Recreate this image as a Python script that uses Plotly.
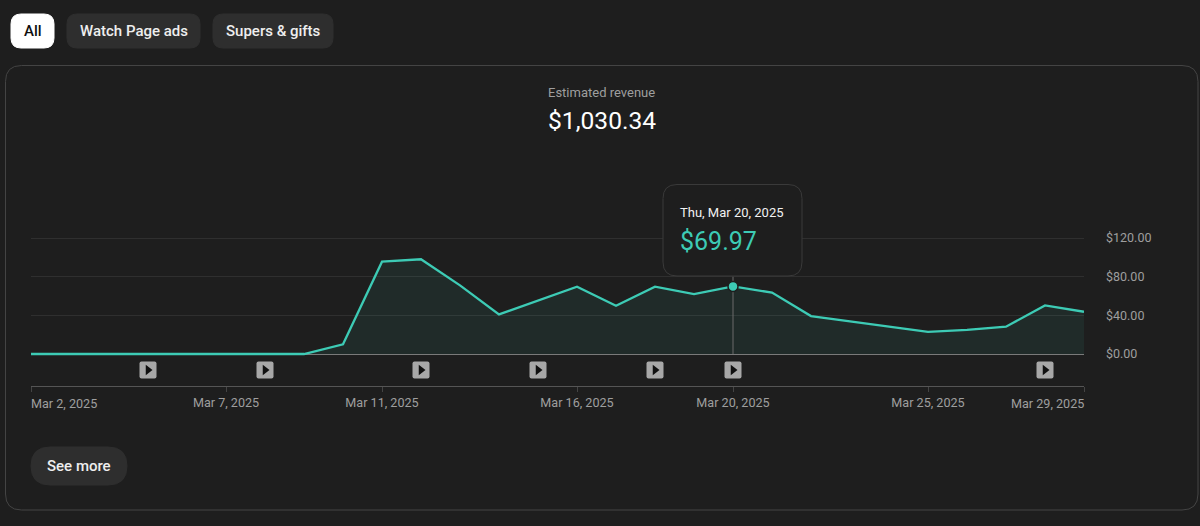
import plotly.graph_objects as go

W = 1200
H = 526

days = ["2025-03-02", "2025-03-03", "2025-03-04", "2025-03-05", "2025-03-06", "2025-03-07",
        "2025-03-08", "2025-03-09", "2025-03-10", "2025-03-11", "2025-03-12", "2025-03-13",
        "2025-03-14", "2025-03-15", "2025-03-16", "2025-03-17", "2025-03-18", "2025-03-19",
        "2025-03-20", "2025-03-21", "2025-03-22", "2025-03-23", "2025-03-24", "2025-03-25",
        "2025-03-26", "2025-03-27", "2025-03-28", "2025-03-29"]
revenue = [0, 0, 0, 0, 0, 0, 0, 0, 10, 95.5, 98, 71, 41, 55, 69.6, 50, 69.6, 62,
           69.97, 63.5, 39.3, 33.8, 28.3, 22.8, 25, 28.3, 50.3, 43.7]

# days with a video published
video_days = ["2025-03-05", "2025-03-08", "2025-03-12", "2025-03-15", "2025-03-18",
              "2025-03-20", "2025-03-28"]

tick_days = ["2025-03-02", "2025-03-07", "2025-03-11", "2025-03-16", "2025-03-20",
             "2025-03-25", "2025-03-29"]
tick_names = ["Mar 2, 2025", "Mar 7, 2025", "Mar 11, 2025", "Mar 16, 2025", "Mar 20, 2025",
              "Mar 25, 2025", "Mar 29, 2025"]
y_ticks = [0, 40, 80, 120]
y_names = ["$0.00", "$40.00", "$80.00", "$120.00"]

hover_day = "2025-03-20"
hover_value = 69.97

BG = "#1e1e1e"
TEAL = "#3dcbb5"
GREY = "#9e9e9e"
FONT = "Roboto"
ICON_Y = -16.5


def px(x):
    return x / W


def py(y):
    return 1 - y / H


def round_box(x0, y0, x1, y1, r, fill, line=None, layer="below"):
    # rounded rectangle given in page pixels
    a, b, c, d = px(x0), px(x1), py(y0), py(y1)
    rx, ry = r / W, r / H
    path = (f"M {a + rx} {c} L {b - rx} {c} Q {b} {c} {b} {c - ry} L {b} {d + ry} Q {b} {d} {b - rx} {d} "
            f"L {a + rx} {d} Q {a} {d} {a} {d + ry} L {a} {c - ry} Q {a} {c} {a + rx} {c} Z")
    return dict(type="path", path=path, xref="paper", yref="paper", fillcolor=fill,
                line=dict(color=line or fill, width=1), layer=layer)


def label(text, x, y, size, color, anchor="center", weight=None):
    return dict(text=text, x=px(x), y=py(y), xref="paper", yref="paper", showarrow=False,
                xanchor=anchor, yanchor="middle",
                font=dict(family=FONT, size=size, color=color, weight=weight))


fig = go.Figure()

fig.add_trace(go.Scatter(x=days, y=revenue, mode="lines", fill="tozeroy",
                         fillcolor="rgba(63,202,180,0.08)",
                         line=dict(color=TEAL, width=2.3), hoverinfo="skip"))
fig.add_trace(go.Scatter(x=[hover_day, hover_day], y=[0, 80], mode="lines",
                         line=dict(color="#6a6a6a", width=1), hoverinfo="skip"))
fig.add_trace(go.Scatter(x=[hover_day], y=[hover_value], mode="markers",
                         marker=dict(color=TEAL, size=10, line=dict(color=BG, width=1.5)),
                         hoverinfo="skip"))
fig.add_trace(go.Scatter(x=video_days, y=[ICON_Y] * len(video_days), mode="markers",
                         marker=dict(symbol="triangle-right", color="#111111", size=9),
                         hoverinfo="skip"))

shapes = [
    round_box(5.5, 65.5, 1198, 510, 16, BG, "#444444"),
    round_box(11, 14, 54, 48, 10, "#ffffff"),
    round_box(67, 14, 200, 48, 10, "#2e2e2e"),
    round_box(213, 14, 333, 48, 10, "#2e2e2e"),
    round_box(31, 447, 127, 485, 19, "#2e2e2e"),
    round_box(663, 184.5, 802, 276, 14, BG, "#3a3a3a", layer="above"),
]
# grey rounded tile behind each play triangle
for d in video_days:
    shapes.append(dict(type="path", xsizemode="pixel", ysizemode="pixel",
                       xanchor=d, yanchor=ICON_Y, xref="x", yref="y",
                       path="M -6.5 -8.5 L 6.5 -8.5 Q 8.5 -8.5 8.5 -6.5 L 8.5 6.5 Q 8.5 8.5 6.5 8.5 "
                            "L -6.5 8.5 Q -8.5 8.5 -8.5 6.5 L -8.5 -6.5 Q -8.5 -8.5 -6.5 -8.5 Z",
                       fillcolor="#a8a8a8", line=dict(width=0), layer="between"))

annotations = [
    label("All", 32.5, 31, 15, "#0f0f0f", weight=500),
    label("Watch Page ads", 133.5, 31, 15, "#eeeeee", weight=500),
    label("Supers &amp; gifts", 273, 31, 15, "#eeeeee", weight=500),
    label("See more", 79, 466, 15, "#eeeeee", weight=500),
    label("Estimated revenue", 601.5, 92.5, 13, GREY),
    label("$1,030.34", 602, 120.5, 24.6, "#ffffff"),
    label("Thu, Mar 20, 2025", 678, 212, 13, "#f1f1f1", anchor="left"),
    label("$69.97", 678, 241, 25, TEAL, anchor="left"),
]
# first and last date labels sit inside the plot edges
annotations.append(dict(text=tick_names[0], x=tick_days[0], xref="x", y=py(403), yref="paper",
                        xanchor="left", yanchor="middle", showarrow=False, xshift=-2,
                        font=dict(family=FONT, size=12.6, color=GREY)))
annotations.append(dict(text=tick_names[-1], x=tick_days[-1], xref="x", y=py(403), yref="paper",
                        xanchor="right", yanchor="middle", showarrow=False, xshift=2,
                        font=dict(family=FONT, size=12.6, color=GREY)))

fig.update_layout(
    width=W, height=H, margin=dict(l=0, r=0, t=0, b=0),
    paper_bgcolor=BG, plot_bgcolor=BG, showlegend=False,
    font=dict(family=FONT, size=13, color=GREY),
    shapes=shapes, annotations=annotations,
    xaxis=dict(domain=[px(31), px(1084)], range=[days[0], days[-1]], type="date", automargin=False,
               tickmode="array", tickvals=tick_days,
               ticktext=[""] + tick_names[1:-1] + [""],
               showgrid=False, zeroline=False, showline=True, linecolor="#555555",
               ticks="outside", ticklen=5, tickcolor="#444444", tickfont=dict(size=12.6, color=GREY)),
    # range runs a little past 120 so the top gridline is still drawn
    yaxis=dict(domain=[py(386), py(230)], range=[-33.1, 128.3], side="right", automargin=False,
               tickmode="array", tickvals=y_ticks, ticktext=y_names,
               showgrid=True, gridcolor="#2f2f2f", gridwidth=1,
               zeroline=True, zerolinecolor="#7a7a7a", zerolinewidth=1,
               showline=False, ticks="", tickfont=dict(size=12.5, color=GREY),
               ticklabelstandoff=21),
)

fig.write_html("out.html", config=dict(displayModeBar=False),
               post_script="document.body.style.margin='0';")
